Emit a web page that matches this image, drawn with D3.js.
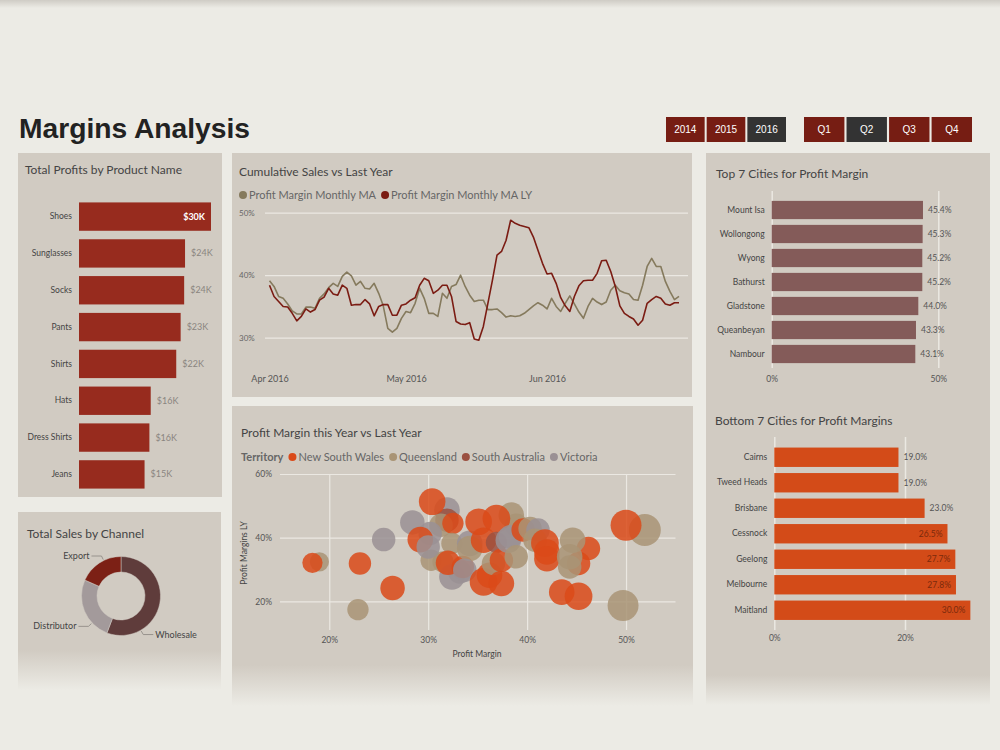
<!DOCTYPE html>
<html>
<head>
<meta charset="utf-8">
<script src="https://cdn.jsdelivr.net/npm/d3@7"></script>
<style>
  body { margin: 0; background: #ecebe5; }
  svg text { font-family: Lato, 'Open Sans', sans-serif; }
  .axis .domain { display: none; }
</style>
</head>
<body>
<svg id="chart" width="1000" height="750"></svg>
<script>
// ---- data ----
var years = ['2014', '2015', '2016'];
var activeYear = '2016';
var quarters = ['Q1', 'Q2', 'Q3', 'Q4'];
var activeQuarter = 'Q2';

var products = ['Shoes', 'Sunglasses', 'Socks', 'Pants', 'Shirts', 'Hats', 'Dress Shirts', 'Jeans'];
var productProfits = [30.0, 24.1, 23.9, 23.1, 22.1, 16.3, 16.0, 14.9]; // $K

var channels = ['Wholesale', 'Distributor', 'Export'];
var channelSales = [55.8, 25.8, 18.4];

var lineStart = '2016-04-01';
var lineTicks = ['2016-04-01', '2016-05-01', '2016-06-01'];
var marginMA = [
	39.1, 38.2, 36.6, 36.3, 35.4, 34.3, 33.8, 33.8, 34.9, 34.9,
	34.7, 36.3, 37.0, 38.0, 38.7, 38.2, 39.8, 40.5, 39.9, 38.4,
	39.0, 37.9, 37.8, 38.7, 37.1, 35.1, 31.5, 30.9, 31.5, 33.1,
	34.2, 34.0, 35.5, 37.9, 36.3, 33.9, 33.9, 33.4, 37.1, 36.3,
	38.2, 38.5, 40.0, 38.2, 36.8, 35.8, 36.0, 36.0, 34.5, 34.5,
	34.6, 34.0, 33.3, 33.5, 33.4, 33.5, 33.9, 34.5, 35.1, 35.6,
	35.2, 34.6, 36.3, 35.0, 34.2, 35.5, 36.7, 35.4, 34.1, 33.1,
	35.0, 36.3, 35.7, 35.3, 35.7, 37.6, 38.4, 37.5, 37.2, 37.0,
	36.1, 36.0, 38.4, 41.4, 42.7, 41.4, 41.4, 39.0, 37.4, 36.1, 36.6
];
var marginMALY = [
	38.4, 36.6, 35.8, 35.0, 34.9, 33.9, 32.7, 33.4, 34.6, 34.1,
	34.5, 36.0, 36.5, 37.9, 37.0, 36.8, 38.4, 37.9, 35.2, 35.3,
	35.3, 36.1, 35.4, 33.5, 35.0, 35.3, 35.3, 33.6, 33.6, 35.2,
	35.4, 36.0, 36.4, 38.4, 39.5, 39.1, 37.1, 37.6, 38.4, 38.4,
	36.6, 32.6, 32.2, 32.1, 32.4, 29.8, 29.6, 31.8, 35.5, 39.2,
	43.2, 43.8, 45.6, 48.8, 48.3, 48.0, 47.8, 47.6, 46.1, 44.0,
	41.9, 40.2, 40.3, 38.7, 36.4, 35.1, 34.2, 36.6, 38.3, 39.1,
	39.2, 39.2, 40.3, 42.3, 42.4, 40.6, 38.2, 35.1, 33.9, 33.4,
	33.0, 32.0, 32.8, 35.5, 36.1, 36.6, 36.3, 35.4, 35.2, 35.6, 35.6
];

var territories = ['New South Wales', 'Queensland', 'South Australia', 'Victoria'];
// 0 = NSW, 1 = QLD, 2 = SA, 3 = VIC
var bubbleTerritory = [1, 0, 0, 1, 0, 3, 3, 3, 2, 1, 0, 0, 3, 1, 1, 3, 3, 0, 3, 1,
	0, 0, 3, 1, 3, 0, 0, 0, 0, 1, 1, 0, 2, 1, 0, 0, 3, 3, 1, 0,
	1, 3, 1, 0, 0, 0, 0, 0, 1, 1, 1, 0, 0, 1, 0, 1];
var bubbleMargin = [19.0, 18.3, 23.1, 22.9, 26.4, 25.5, 28.4, 31.9, 31.9, 31.3, 32.5, 30.4, 30.2, 30.3, 31.5, 32.4, 33.2, 29.2, 30.0, 32.4,
	32.0, 33.5, 34.2, 34.2, 33.7, 35.6, 36.2, 35.1, 35.6, 38.4, 38.9, 36.9, 36.9, 36.6, 37.4, 37.4, 38.1, 38.3, 38.9, 39.6,
	40.3, 41.1, 40.8, 41.8, 42.0, 42.0, 46.2, 45.2, 44.6, 44.3, 44.3, 43.5, 45.2, 51.9, 50.0, 49.7];
var bubbleMarginLY = [32.4, 32.1, 31.9, 17.4, 24.2, 39.4, 44.8, 48.7, 45.5, 43.9, 44.5, 51.3, 41.3, 32.9, 32.4, 27.7, 29.2, 39.4, 37.1, 38.2,
	32.1, 30.8, 38.2, 36.6, 29.8, 26.1, 28.2, 45.0, 39.2, 47.1, 43.9, 46.0, 38.5, 31.9, 32.9, 25.6, 39.2, 40.3, 34.0, 42.4,
	42.9, 42.4, 39.2, 38.3, 35.5, 33.4, 36.6, 31.9, 39.2, 34.0, 30.8, 22.9, 21.6, 42.4, 43.9, 18.7];
var bubbleSize = [9, 9.5, 10.5, 10, 11.5, 11, 11.5, 12, 11, 11, 10, 12.5, 11, 10, 10, 12, 11, 12, 11, 10,
	11.5, 10.5, 12, 12, 11, 13, 12, 12.5, 12, 12, 11, 13, 10, 11, 11, 12, 12, 11, 11, 11,
	11, 11, 11, 13, 12, 12, 11, 11, 12, 12, 11, 12, 13, 15, 14.5, 14.5];

var topCities = ['Mount Isa', 'Wollongong', 'Wyong', 'Bathurst', 'Gladstone', 'Queanbeyan', 'Nambour'];
var topMargins = [45.4, 45.3, 45.2, 45.2, 44.0, 43.3, 43.1];
var bottomCities = ['Cairns', 'Tweed Heads', 'Brisbane', 'Cessnock', 'Geelong', 'Melbourne', 'Maitland'];
var bottomMargins = [19.0, 19.0, 23.0, 26.5, 27.7, 27.8, 30.0];

// ---- styles ----
var pageColor = '#ecebe5',
	panelColor = '#d1cbc2',
	titleColor = '#444',
	labelColor = '#555',
	gridColor = '#ebe8e2',
	darkRed = '#761d13',
	activeGrey = '#333',
	productColor = '#972b1e',
	topColor = '#845b59',
	bottomColor = '#d34b18',
	maColor = '#857a5d',
	lyColor = '#7b1c13',
	territoryColors = ['#da4a19', '#a99475', '#9b5040', '#9a9094'],
	channelColors = ['#5f3c3b', '#a39a9b', '#7c2015'];

var svg = d3.select('#chart');
var defs = svg.append('defs');

svg.append('rect').attr('width', 1000).attr('height', 750).attr('fill', pageColor);
var topShade = defs.append('linearGradient').attr('id', 'topShade')
	.attr('x1', 0).attr('x2', 0).attr('y1', 0).attr('y2', 1);
topShade.append('stop').attr('offset', 0).attr('stop-color', '#cfccc5');
topShade.append('stop').attr('offset', 1).attr('stop-color', pageColor);
svg.append('rect').attr('width', 1000).attr('height', 8).attr('fill', 'url(#topShade)');

function panel(id, x, y, w, h, fadeFrom) {
	var fill = panelColor;
	if (fadeFrom) {
		var g = defs.append('linearGradient').attr('id', id)
			.attr('gradientUnits', 'userSpaceOnUse')
			.attr('x1', 0).attr('x2', 0).attr('y1', fadeFrom).attr('y2', y + h);
		g.append('stop').attr('offset', 0).attr('stop-color', panelColor);
		g.append('stop').attr('offset', 1).attr('stop-color', pageColor);
		fill = 'url(#' + id + ')';
	}
	svg.append('rect')
		.attr('x', x).attr('y', y).attr('width', w).attr('height', h)
		.attr('fill', fill);
}

function title(x, y, txt) {
	svg.append('text')
		.attr('x', x).attr('y', y)
		.attr('font-size', '12px')
		.attr('fill', titleColor)
		.text(txt);
}

panel('p1', 18, 153, 204, 344);
panel('p2', 18, 512, 203, 178, 650);
panel('p3', 232, 153, 460, 244);
panel('p4', 232, 406, 461, 300, 665);
panel('p5', 706, 153, 284, 552, 675);

// ---- header ----
svg.append('text')
	.attr('x', 19).attr('y', 138)
	.style('font-family', "'Liberation Sans Narrow', 'Liberation Sans', Arial, sans-serif")
	.attr('font-weight', 'bold')
	.attr('font-size', '28px')
	.attr('textLength', 231)
	.attr('lengthAdjust', 'spacingAndGlyphs')
	.attr('fill', '#222')
	.text('Margins Analysis');

function buttons(items, active, x0, x1) {
	var b = d3.scaleBand().domain(items).range([x0, x1]).paddingInner(0.05);
	var g = svg.append('g').selectAll('g').data(items).enter().append('g');
	g.append('rect')
		.attr('x', function(d) { return b(d); })
		.attr('y', 117)
		.attr('width', b.bandwidth())
		.attr('height', 25)
		.attr('fill', function(d) { return d === active ? activeGrey : darkRed; });
	g.append('text')
		.attr('x', function(d) { return b(d) + b.bandwidth() / 2; })
		.attr('y', 133)
		.attr('text-anchor', 'middle')
		.style('font-family', "'Liberation Sans Narrow', 'Liberation Sans', sans-serif")
		.attr('font-size', '10px')
		.attr('fill', '#fff')
		.text(function(d) { return d; });
}
buttons(years, activeYear, 666, 786);
buttons(quarters, activeQuarter, 804, 972);

// ---- Total Profits by Product Name ----
title(25, 174, 'Total Profits by Product Name');
var px = d3.scaleLinear().domain([0, 30]).range([79, 211]);
var py = d3.scaleBand().domain(products).range([198, 493]).paddingInner(0.23).paddingOuter(0.12);
svg.append('g').selectAll('rect').data(products).enter().append('rect')
	.attr('x', px(0))
	.attr('y', function(d) { return py(d); })
	.attr('width', function(d, i) { return px(productProfits[i]) - px(0); })
	.attr('height', py.bandwidth())
	.attr('fill', productColor);
svg.append('g')
	.attr('class', 'axis')
	.attr('transform', 'translate(' + px(0) + ',0)')
	.call(d3.axisLeft(py).tickSize(0).tickPadding(7))
	.selectAll('text')
		.attr('font-size', '8.5px')
		.attr('fill', '#444');
svg.append('g').selectAll('text').data(products).enter().append('text')
	.attr('x', function(d, i) { return i === 0 ? px(productProfits[i]) - 6 : px(productProfits[i]) + 6; })
	.attr('y', function(d) { return py(d) + py.bandwidth() / 2 + 3; })
	.attr('text-anchor', function(d, i) { return i === 0 ? 'end' : 'start'; })
	.attr('font-size', '9px')
	.attr('font-weight', function(d, i) { return i === 0 ? 'bold' : 'normal'; })
	.attr('fill', function(d, i) { return i === 0 ? '#fff' : '#8a8580'; })
	.text(function(d, i) { return '$' + Math.round(productProfits[i]) + 'K'; });

// ---- Total Sales by Channel ----
title(27, 538, 'Total Sales by Channel');
var cx = 121, cy = 596, rOut = 39.5, rIn = 24;
var pie = d3.pie().sort(null).value(function(d) { return d; });
var arcs = pie(channelSales);
var arc = d3.arc().innerRadius(rIn).outerRadius(rOut);
var donut = svg.append('g').attr('transform', 'translate(' + cx + ',' + cy + ')');
donut.selectAll('path').data(arcs).enter().append('path')
	.attr('d', arc)
	.attr('fill', function(d, i) { return channelColors[i]; })
	.attr('stroke', panelColor)
	.attr('stroke-width', 0.5);
// leader lines (anchor angle in degrees, clockwise from top)
var leaderAngles = [150, 227, 334];
channels.forEach(function(c, i) {
	var a = leaderAngles[i] * Math.PI / 180;
	var side = Math.sin(a) > 0 ? 1 : -1;
	var p0 = [Math.sin(a) * (rOut + 1), -Math.cos(a) * (rOut + 1)];
	var p1 = [Math.sin(a) * (rOut + 5), -Math.cos(a) * (rOut + 5)];
	var p2 = [p1[0] + side * 10, p1[1]];
	donut.append('polyline')
		.attr('points', [p0, p1, p2].map(function(p) { return p.join(','); }).join(' '))
		.attr('fill', 'none')
		.attr('stroke', '#8a8580')
		.attr('stroke-width', 0.8);
	donut.append('text')
		.attr('x', p2[0] + side * 2)
		.attr('y', p2[1] + 3)
		.attr('text-anchor', side > 0 ? 'start' : 'end')
		.attr('font-size', '9px')
		.attr('fill', '#444')
		.text(c);
});

// ---- Cumulative Sales vs Last Year ----
title(239, 176, 'Cumulative Sales vs Last Year');
var parse = d3.timeParse('%Y-%m-%d');
var start = parse(lineStart);
var dates = marginMA.map(function(v, i) { return d3.timeDay.offset(start, i); });
var lx = d3.scaleTime().domain([dates[0], dates[dates.length - 1]]).range([269.5, 679]);
var ly = d3.scaleLinear().domain([30, 50]).range([337.7, 212.7]);

var lineLegend = [['Profit Margin Monthly MA', maColor], ['Profit Margin Monthly MA LY', lyColor]];
var lgx = 243;
lineLegend.forEach(function(l) {
	svg.append('circle').attr('cx', lgx).attr('cy', 195).attr('r', 4).attr('fill', l[1]);
	var t = svg.append('text')
		.attr('x', lgx + 6).attr('y', 199)
		.attr('font-size', '11px')
		.attr('fill', '#666')
		.text(l[0]);
	lgx += t.node().getComputedTextLength() + 15;
});

var yGrid = svg.append('g')
	.attr('class', 'axis')
	.attr('transform', 'translate(265,0)')
	.call(d3.axisRight(ly).tickValues([30, 40, 50]).tickSize(423)
		.tickFormat(function(d) { return d + '%'; }));
yGrid.selectAll('line').attr('stroke', gridColor).attr('stroke-width', 1.2);
yGrid.selectAll('text')
	.attr('x', -26)
	.attr('text-anchor', 'start')
	.attr('font-size', '8px')
	.attr('fill', '#666');

var xAxis = svg.append('g')
	.attr('class', 'axis')
	.attr('transform', 'translate(0,368)')
	.call(d3.axisBottom(lx).tickValues(lineTicks.map(parse)).tickSize(0).tickPadding(8)
		.tickFormat(d3.timeFormat('%b %Y')));
xAxis.selectAll('text').attr('font-size', '9px').attr('fill', labelColor);

var line = d3.line()
	.x(function(d, i) { return lx(dates[i]); })
	.y(function(d) { return ly(d); });
svg.append('path').datum(marginMA)
	.attr('d', line).attr('fill', 'none')
	.attr('stroke', maColor).attr('stroke-width', 1.6).attr('stroke-linejoin', 'round');
svg.append('path').datum(marginMALY)
	.attr('d', line).attr('fill', 'none')
	.attr('stroke', lyColor).attr('stroke-width', 1.6).attr('stroke-linejoin', 'round');

// ---- Profit Margin this Year vs Last Year ----
title(241, 437, 'Profit Margin this Year vs Last Year');
var tgx = 241;
var tl = svg.append('text').attr('x', tgx).attr('y', 461)
	.attr('font-size', '11px').attr('font-weight', 'bold').attr('fill', '#666').text('Territory');
tgx += tl.node().getComputedTextLength() + 9;
territories.forEach(function(t, i) {
	svg.append('circle').attr('cx', tgx).attr('cy', 457).attr('r', 4).attr('fill', territoryColors[i]);
	var txt = svg.append('text')
		.attr('x', tgx + 6).attr('y', 461)
		.attr('font-size', '11px')
		.attr('fill', '#666')
		.text(t);
	tgx += txt.node().getComputedTextLength() + 15;
});

var sx = d3.scaleLinear().domain([15, 55]).range([279.8, 675.5]);
var sy = d3.scaleLinear().domain([11, 60]).range([630, 474]);
var sr = d3.scaleLinear().domain([0, 15]).range([0, 16]);

var sxAxis = svg.append('g')
	.attr('class', 'axis')
	.attr('transform', 'translate(0,630)')
	.call(d3.axisBottom(sx).tickValues([20, 30, 40, 50]).tickSize(-156).tickPadding(7)
		.tickFormat(function(d) { return d + '%'; }));
sxAxis.selectAll('line').attr('stroke', gridColor).attr('stroke-width', 1.2);
sxAxis.selectAll('text').attr('font-size', '8.5px').attr('fill', labelColor);

var syAxis = svg.append('g')
	.attr('class', 'axis')
	.attr('transform', 'translate(280,0)')
	.call(d3.axisLeft(sy).tickValues([20, 40, 60]).tickSize(-395.5).tickPadding(8)
		.tickFormat(function(d) { return d + '%'; }));
syAxis.selectAll('line').attr('stroke', gridColor).attr('stroke-width', 1.2);
syAxis.selectAll('text').attr('font-size', '8.5px').attr('fill', labelColor);

svg.append('text')
	.attr('transform', 'translate(247,553) rotate(-90)')
	.attr('text-anchor', 'middle')
	.attr('font-size', '8.5px')
	.attr('fill', '#444')
	.text('Profit Margins LY');
svg.append('text')
	.attr('x', 477).attr('y', 657)
	.attr('text-anchor', 'middle')
	.attr('font-size', '8.5px')
	.attr('fill', '#444')
	.text('Profit Margin');

svg.append('g').selectAll('circle').data(bubbleMargin).enter().append('circle')
	.attr('cx', function(d) { return sx(d); })
	.attr('cy', function(d, i) { return sy(bubbleMarginLY[i]); })
	.attr('r', function(d, i) { return sr(bubbleSize[i]); })
	.attr('fill', function(d, i) { return territoryColors[bubbleTerritory[i]]; })
	.attr('fill-opacity', 0.85);

// ---- Top / Bottom cities ----
function cityBars(cities, values, opts) {
	var x = d3.scaleLinear().domain([0, opts.max]).range([opts.x0, opts.x1]);
	var y = d3.scaleBand().domain(cities).range([opts.y0, opts.y1]).paddingInner(0.24).paddingOuter(0.12);
	var grid = svg.append('g')
		.attr('class', 'axis')
		.attr('transform', 'translate(0,' + opts.gridBottom + ')')
		.call(d3.axisBottom(x).tickValues(opts.ticks).tickSize(-(opts.gridBottom - opts.gridTop))
			.tickPadding(opts.tickPad)
			.tickFormat(function(d) { return d + '%'; }));
	grid.selectAll('line').attr('stroke', gridColor).attr('stroke-width', 1.5);
	grid.selectAll('text').attr('font-size', '8.5px').attr('fill', labelColor);

	svg.append('g').selectAll('rect').data(cities).enter().append('rect')
		.attr('x', x(0))
		.attr('y', function(d) { return y(d); })
		.attr('width', function(d, i) { return x(values[i]) - x(0); })
		.attr('height', y.bandwidth())
		.attr('fill', opts.color);
	svg.append('g')
		.attr('class', 'axis')
		.attr('transform', 'translate(' + (x(0) - 1) + ',0)')
		.call(d3.axisLeft(y).tickSize(0).tickPadding(6))
		.selectAll('text')
			.attr('font-size', '8.5px')
			.attr('fill', '#444');
	svg.append('g').selectAll('text').data(cities).enter().append('text')
		.attr('x', function(d, i) {
			return values[i] >= opts.inside ? x(values[i]) - 5 : x(values[i]) + 5;
		})
		.attr('y', function(d) { return y(d) + y.bandwidth() / 2 + 3; })
		.attr('text-anchor', function(d, i) { return values[i] >= opts.inside ? 'end' : 'start'; })
		.attr('font-size', '8.5px')
		.attr('fill', function(d, i) { return values[i] >= opts.inside ? '#7a2a0c' : '#555'; })
		.text(function(d, i) { return values[i].toFixed(1) + '%'; });
}

title(716, 178, 'Top 7 Cities for Profit Margin');
cityBars(topCities, topMargins, {
	max: 50, x0: 771.7, x1: 938.3, y0: 198, y1: 366,
	gridTop: 191, gridBottom: 368, ticks: [0, 50], tickPad: 8,
	color: topColor, inside: 100
});

title(715, 425, 'Bottom 7 Cities for Profit Margins');
cityBars(bottomCities, bottomMargins, {
	max: 20, x0: 774.3, x1: 905, y0: 444.5, y1: 623,
	gridTop: 437, gridBottom: 630, ticks: [0, 20], tickPad: 5,
	color: bottomColor, inside: 25
});
</script>
</body>
</html>
